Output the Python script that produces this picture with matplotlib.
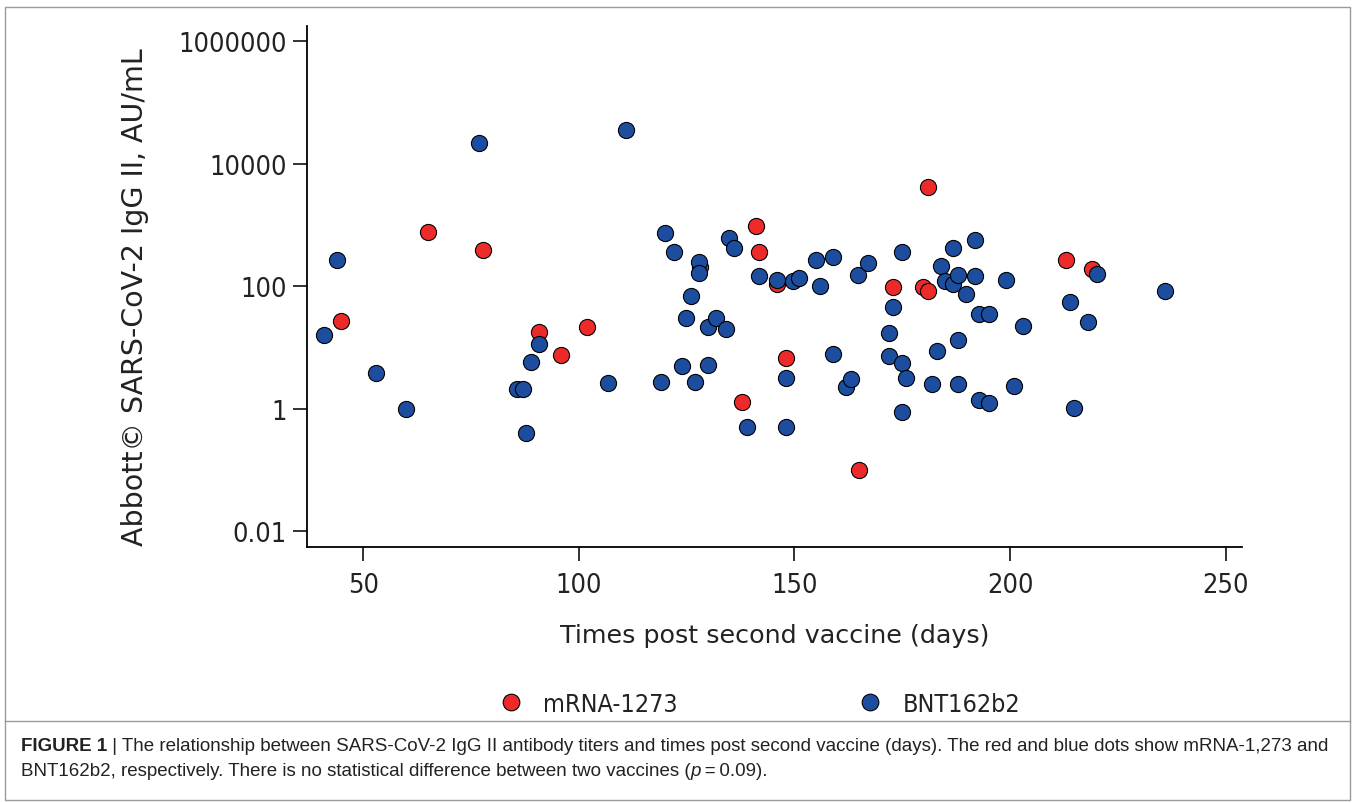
import matplotlib
matplotlib.use("Agg")
import matplotlib.pyplot as plt
from matplotlib.lines import Line2D
from matplotlib.patches import Rectangle
from matplotlib.ticker import FixedLocator, FixedFormatter, NullLocator

# days after second dose and titers (AU/mL)
mrna_days = [44.8, 64.9, 77.8, 90.8, 95.8, 101.9, 128.0, 137.9, 141.0, 141.8,
             145.9, 148.0, 165.0, 172.9, 179.9, 181.0, 181.0, 213.0, 218.9]
mrna_titer = [27.1, 778, 392, 17.7, 7.6, 21.7, 204, 1.31, 977, 367,
              110, 6.8, 0.101, 96, 96, 4230, 85, 272, 191]

bnt_days = [40.8, 43.9, 52.9, 59.9, 76.8, 85.7, 87.1, 87.8, 88.9, 90.8,
            106.8, 110.9, 119.0, 120.0, 122.0, 123.8, 124.8, 125.9, 126.9, 127.9,
            127.9, 129.9, 130.0, 131.8, 134.0, 134.8, 135.9, 138.9, 141.8, 145.9,
            148.0, 148.0, 149.7, 151.0, 155.0, 155.9, 159.0, 159.0, 161.9, 163.0,
            164.8, 167.0, 171.9, 171.9, 172.9, 174.9, 174.9, 174.9, 175.9, 181.8,
            183.0, 184.0, 184.9, 186.8, 186.8, 188.0, 188.0, 188.0, 189.8, 191.9,
            191.9, 192.9, 195.1, 192.9, 195.1, 199.0, 200.9, 202.9, 213.9, 214.9,
            218.0, 220.1, 235.9]
bnt_titer = [16.2, 272, 3.8, 0.99, 21600, 2.13, 2.13, 0.40, 5.9, 11.4,
             2.6, 35600, 2.7, 741, 367, 4.9, 30.7, 68.7, 2.7, 252,
             163, 5.1, 21.9, 30.1, 19.9, 608, 417, 0.51, 149, 126,
             3.2, 0.51, 123, 135, 272, 100, 297, 7.9, 2.24, 3.07,
             155, 237, 17.1, 7.4, 45.4, 367, 5.6, 0.90, 3.15, 2.54,
             8.7, 217, 123, 417, 109, 155, 13.4, 2.51, 76, 570,
             149, 35.2, 35.2, 1.41, 1.23, 128, 2.33, 22.8, 54.8, 1.02,
             25.8, 159, 85]

y_ticks = [0.01, 1, 100, 10000, 1000000]
y_labels = ["0.01", "1", "100", "10000", "1000000"]
x_ticks = [50, 100, 150, 200, 250]

red = "#ec2a2a"
blue = "#1c4d9f"
ink = "#222222"

fig = plt.figure(figsize=(13.55, 8.04), dpi=100)
ax = fig.add_axes([0.2268, 0.3188, 0.6898, 0.648])

ax.scatter(mrna_days, mrna_titer, s=135, c=red, edgecolors="black", linewidths=0.8, zorder=2)
ax.scatter(bnt_days, bnt_titer, s=135, c=blue, edgecolors="black", linewidths=0.8, zorder=3)

ax.set_yscale("log")
ax.set_xlim(37.0, 253.8)
ax.set_ylim(10 ** -2.252, 10 ** 6.255)
ax.yaxis.set_major_locator(FixedLocator(y_ticks))
ax.yaxis.set_major_formatter(FixedFormatter(y_labels))
ax.yaxis.set_minor_locator(NullLocator())
ax.set_xticks(x_ticks)

for side in ["top", "right"]:
    ax.spines[side].set_visible(False)
for side in ["left", "bottom"]:
    ax.spines[side].set_linewidth(1.3)
ax.tick_params(axis="both", length=10, width=1.3, color=ink)
ax.tick_params(axis="y", pad=5)
ax.tick_params(axis="x", pad=8)
for lab in ax.get_xticklabels() + ax.get_yticklabels():
    lab.set_family("DejaVu Sans")
    lab.set_stretch("condensed")
    lab.set_fontsize(19.5)
    lab.set_color(ink)

ax.set_ylabel("Abbott© SARS-CoV-2 IgG II, AU/mL", fontsize=20.5, color=ink)
ax.yaxis.set_label_coords(-0.169, 0.481)
ax.set_xlabel("Times post second vaccine (days)", fontsize=18.3, color=ink, labelpad=18)

handles = [Line2D([], [], ls="", marker="o", ms=12, mfc=red, mec="black", mew=0.8),
           Line2D([], [], ls="", marker="o", ms=12, mfc=blue, mec="black", mew=0.8)]
fig.legend(handles, ["mRNA-1273", "BNT162b2"], loc="center", bbox_to_anchor=(0.5605, 0.123),
           ncol=2, frameon=False,
           prop={"family": "DejaVu Sans", "stretch": "condensed", "size": 18},
           handlelength=1.0, handletextpad=0.8, columnspacing=7.2, labelcolor=ink)

# frame and caption
fig.patches.append(Rectangle((0.004, 0.004), 0.992, 0.986, transform=fig.transFigure,
                             fill=False, edgecolor="#9a9a9a", linewidth=1.0))
fig.add_artist(Line2D([0.004, 0.996], [0.102, 0.102], transform=fig.transFigure,
                      color="#9a9a9a", linewidth=1.0))

cap = {"family": ["Liberation Sans", "DejaVu Sans"], "fontsize": 13.5, "color": ink}
t1 = fig.text(0.0155, 0.066, "FIGURE 1", fontweight="bold", va="baseline", **cap)
ax.annotate(" | The relationship between SARS-CoV-2 IgG II antibody titers and times post second "
            "vaccine (days). The red and blue dots show mRNA-1,273 and",
            xy=(1, 0), xycoords=t1, va="bottom", ha="left", annotation_clip=False, **cap)
t3 = fig.text(0.0155, 0.035, "BNT162b2, respectively. There is no statistical difference between "
              "two vaccines (", va="baseline", **cap)
t4 = ax.annotate("p", xy=(1, 0), xycoords=t3, va="bottom", ha="left", style="italic",
                 annotation_clip=False, **cap)
ax.annotate("\u2009=\u20090.09).", xy=(1, 0), xycoords=t4, va="bottom", ha="left",
            annotation_clip=False, **cap)
fig.savefig("out.png", dpi=100)
